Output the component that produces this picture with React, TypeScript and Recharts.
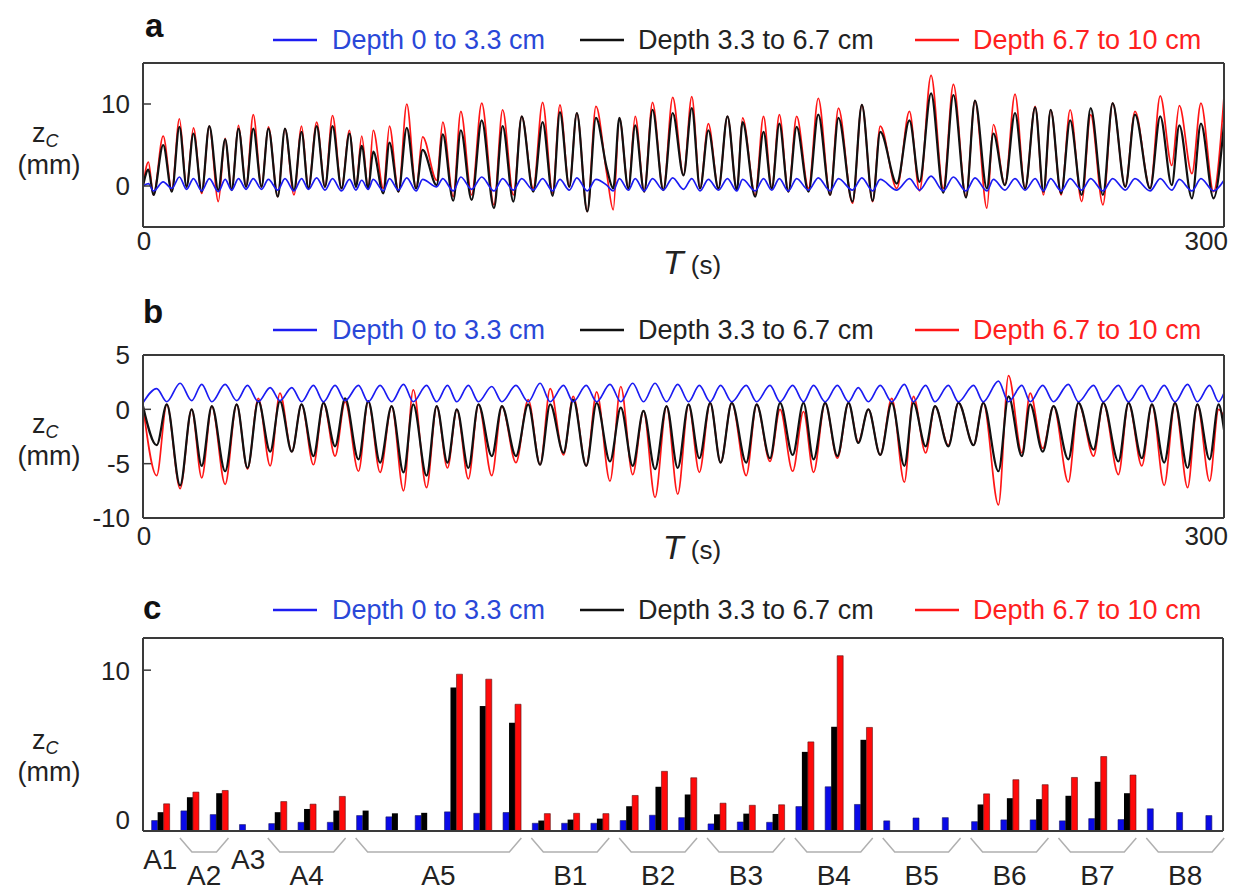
import React from 'react';
import { LineChart, Line, XAxis, YAxis, BarChart, Bar } from 'recharts';

// ---- data ----
const seriesNames = ['Depth 0 to 3.3 cm', 'Depth 3.3 to 6.7 cm', 'Depth 6.7 to 10 cm'];

// panel a: time (s) of each crest / trough and the values there (mm)
const tA = [
  0, 1.5, 2.9, 5.6, 8.0, 10.1, 12.1, 14.0, 16.3, 18.4,
  20.9, 22.8, 24.6, 26.5, 28.6, 30.6, 32.9, 34.8, 37.4, 39.4,
  41.9, 44.0, 45.9, 48.2, 50.5, 52.6, 55.1, 57.3, 59.1, 60.7,
  62.5, 63.9, 66.7, 68.4, 70.9, 73.2, 75.8, 77.6, 81.5, 83.2,
  86.1, 88.2, 91.2, 94.0, 97.4, 99.8, 102.8, 105.1, 108.3, 110.9,
  113.7, 115.7, 118.3, 120.4, 123.3, 125.7, 128.7, 130.5, 132.2, 134.7,
  136.6, 139.1, 141.4, 144.4, 147.0, 150.0, 152.3, 154.6, 156.9, 159.7,
  162.2, 164.8, 166.4, 169.9, 172.2, 174.5, 176.6, 179.1, 181.4, 184.7,
  187.4, 190.7, 193.0, 196.9, 199.5, 202.5, 204.6, 209.2, 212.7, 215.5,
  218.7, 222.1, 224.9, 228.4, 230.9, 234.2, 236.0, 239.2, 242.0, 244.8,
  247.6, 249.9, 251.9, 254.8, 257.3, 260.5, 263.0, 266.4, 269.1, 272.6,
  275.3, 279.5, 282.3, 285.5, 287.6, 291.1, 293.6, 297.1, 300,
];
const blueA = [
  0, 0.3, -0.6, 0.5, -0.3, 1.1, -0.4, 0.9, -0.6, 0.9,
  -0.7, 0.8, -0.5, 0.9, -0.4, 0.9, -0.4, 0.8, -0.5, 0.9,
  -0.6, 0.9, -0.4, 1.0, -0.5, 0.9, -0.6, 0.8, -0.5, 0.7,
  -0.4, 0.8, -0.6, 0.9, -0.5, 1.0, -0.6, 0.8, -0.1, 0.9,
  -0.6, 1.1, -0.4, 1.1, -0.6, 0.9, -0.5, 0.9, -0.5, 0.9,
  -0.6, 0.8, -0.5, 1.0, -0.6, 0.8, 0.1, -0.6, 0.9, -0.5,
  0.9, -0.6, 0.9, -0.5, 1.0, -0.4, 0.9, -0.6, 0.8, -0.5,
  0.9, -0.6, 0.8, -0.6, 0.9, -0.5, 0.9, -0.6, 0.9, -0.5,
  1.0, -0.6, 0.9, -0.5, 1.0, -0.6, 0.8, -0.5, 0.9, -0.5,
  1.2, -0.6, 1.1, -0.6, 1.0, -0.6, 0.8, -0.5, 0.9, -0.5,
  0.9, -0.6, 0.9, -0.6, 0.9, -0.5, 0.9, -0.6, 0.9, -0.5,
  0.9, -0.6, 0.9, -0.5, 0.8, -0.6, 0.9, -0.6, 0.7,
];
const blackA = [
  0, 2.0, -1.1, 5.0, -0.7, 7.2, -0.1, 6.4, -0.7, 7.3,
  -0.5, 5.7, -0.5, 7.0, -0.1, 7.0, -0.1, 7.0, -1.3, 7.0,
  -0.5, 6.6, -0.3, 7.3, -0.1, 7.3, -0.3, 6.4, -0.1, 4.9,
  -0.3, 4.2, -0.9, 5.3, -0.7, 7.1, -0.3, 4.4, 0.1, 6.3,
  -1.8, 6.8, -1.7, 8.0, -2.7, 7.3, -1.9, 8.5, -0.7, 7.8,
  -1.2, 9.0, -0.1, 8.9, -3.1, 8.3, 2.2, -0.3, 8.3, -0.3,
  7.4, -0.7, 9.3, -0.5, 8.9, 1.3, 9.5, -0.3, 6.8, -0.3,
  8.5, -0.5, 7.8, -1.3, 6.6, -0.3, 7.6, -0.7, 7.2, -0.7,
  8.7, -1.1, 8.3, -1.9, 9.9, -1.8, 6.6, 0.3, 8.0, 0.5,
  11.3, -0.8, 11.1, -1.4, 10.4, -0.3, 6.4, 0.1, 8.9, -0.3,
  9.6, -0.7, 9.3, -0.9, 8.0, -1.1, 9.5, -1.1, 10.1, -0.1,
  8.7, -0.3, 8.5, 0.1, 7.4, -1.5, 7.6, -1.5, 7.6,
];
const redA = [
  0, 2.9, -1.1, 6.1, -0.5, 8.2, -0.1, 7.1, -0.9, 7.3,
  -1.9, 5.8, -0.5, 7.4, -0.1, 8.7, -0.1, 7.2, -1.3, 7.0,
  -1.1, 7.3, -0.3, 7.8, -0.1, 8.6, -0.3, 6.8, -0.1, 6.1,
  -0.3, 6.8, -0.3, 7.3, -0.7, 10.0, -0.3, 6.0, 0.7, 7.8,
  -1.3, 9.1, -1.1, 10.1, -2.3, 9.3, -1.1, 8.5, -0.3, 10.2,
  -0.9, 9.9, -0.1, 8.9, -3.1, 9.7, 1.5, -2.9, 8.3, -0.3,
  8.5, -0.7, 10.2, -0.5, 10.8, 1.3, 10.9, -0.3, 7.6, -0.3,
  8.5, -0.5, 8.3, -1.1, 8.5, -0.3, 8.7, -0.7, 8.5, -0.3,
  10.7, -1.1, 9.5, -2.1, 9.9, -1.9, 7.3, -0.3, 9.1, -0.6,
  13.5, -0.3, 12.4, -1.3, 10.4, -2.7, 7.5, 0.1, 11.2, -0.3,
  9.7, -1.1, 9.3, -1.1, 9.3, -1.9, 8.7, -2.3, 10.1, -0.1,
  9.1, -0.3, 11.0, 2.5, 9.8, 1.5, 10.1, -0.7, 10.9,
];

// panel b
const tB = [
  0, 3.8, 6.6, 10.3, 13.5, 16.3, 19.1, 22.8, 26.0, 29.0,
  32.0, 35.3, 38.0, 41.3, 44.0, 47.3, 50.1, 53.3, 56.1, 59.8,
  62.5, 65.8, 69.0, 72.3, 75.0, 78.7, 81.5, 84.5, 87.1, 90.3,
  93.1, 96.8, 99.6, 103.5, 106.9, 110.2, 113.0, 116.7, 119.4, 123.0,
  125.9, 129.6, 132.6, 135.9, 138.9, 142.1, 145.3, 148.4, 151.4, 154.4,
  157.4, 160.3, 163.4, 167.4, 170.3, 174.0, 176.8, 180.3, 183.3, 186.1,
  189.3, 192.7, 195.8, 198.5, 201.3, 204.6, 207.8, 211.3, 213.8, 217.2,
  219.8, 223.5, 226.3, 230.5, 233.2, 237.4, 240.2, 243.9, 246.2, 249.7,
  252.7, 256.8, 259.6, 263.8, 266.5, 270.7, 273.5, 277.2, 280.0, 283.4,
  286.4, 289.9, 292.6, 296.0, 298.5, 300,
];
const blueB = [
  0.6, 1.9, 0.7, 2.4, 0.8, 2.3, 0.7, 2.3, 0.8, 2.2,
  0.7, 2.0, 0.8, 2.0, 0.7, 2.2, 0.7, 2.2, 0.8, 2.2,
  0.7, 2.2, 0.7, 2.3, 0.7, 2.2, 0.7, 2.2, 0.7, 2.2,
  0.7, 2.1, 0.7, 2.2, 0.7, 2.4, 0.7, 2.2, 0.7, 2.2,
  0.7, 2.3, 0.7, 2.4, 0.7, 2.4, 0.7, 2.3, 0.7, 2.2,
  0.7, 2.2, 0.7, 2.2, 0.7, 2.2, 0.7, 2.2, 0.7, 2.2,
  0.7, 2.2, 0.7, 2.0, 0.7, 2.2, 0.7, 2.3, 0.7, 2.2,
  0.7, 2.2, 0.7, 2.2, 0.7, 2.6, 0.7, 2.2, 0.7, 2.2,
  0.7, 2.3, 0.7, 2.2, 0.7, 2.2, 0.7, 2.2, 0.7, 2.2,
  0.7, 2.3, 0.7, 2.2, 0.7, 1.5,
];
const blackB = [
  0.3, -3.3, 0.45, -7.0, 0, -5.2, 0.3, -5.7, 0.45, -5.4,
  0.75, -3.9, 0.75, -3.9, 0.45, -4.3, 0.6, -3.4, 1.0, -4.6,
  0.75, -4.9, 0.3, -5.8, 0.45, -6.1, 0.3, -4.9, 0, -5.4,
  0.45, -4.3, 0.3, -4.3, 0.45, -5.1, 0.45, -4.0, 0.9, -5.2,
  0.6, -4.8, 0.15, -5.2, -0.15, -5.5, 0.3, -5.4, 0.45, -4.5,
  0.6, -4.9, 0.6, -4.9, 0.45, -4.5, 0.6, -4.2, 0.6, -4.6,
  0.6, -4.3, 0.6, -3.1, 0, -4.2, 0.6, -5.2, 0.6, -3.4,
  0.3, -3.4, 0.6, -3.3, 0.6, -5.7, 1.2, -4.3, 0.45, -3.9,
  0.3, -4.6, 0.6, -3.7, 0.6, -4.8, 0.6, -4.5, 0.45, -4.9,
  0.6, -5.4, 0.45, -4.6, 0.45, -1.9,
];
const redB = [
  0.3, -6.1, 0.45, -7.3, 0, -6.3, 0.3, -6.9, 0.45, -5.5,
  1.0, -5.2, 1.5, -3.9, 0.45, -5.1, 0.6, -4.3, 0.7, -5.7,
  0.75, -5.8, 0.3, -7.5, 1.8, -7.2, 0.3, -5.4, 0, -6.4,
  0.45, -6.1, 0.3, -4.9, 0.9, -5.1, 1.9, -4.2, 1.2, -5.2,
  1.6, -6.6, 2.1, -6.0, -0.15, -8.1, 0.3, -7.8, 0.45, -5.8,
  0.6, -4.9, 0.6, -6.1, 0.45, -4.8, 0.0, -5.7, -0.2, -5.8,
  0.6, -4.5, 0.6, -3.0, 0, -4.2, 1.0, -6.7, 1.2, -4.0,
  0.3, -3.3, 0.6, -3.3, 0.6, -8.8, 3.1, -4.0, 1.5, -3.6,
  0.3, -6.7, 0.6, -4.3, 0.6, -6.0, 0.6, -5.2, 0.45, -7.0,
  0.6, -7.2, 0.45, -6.6, 0.0, -0.7,
];

// panel c: site groups and the bar heights (mm) of each test
const groupNames = ['A1', 'A2', 'A3', 'A4', 'A5', 'B1', 'B2', 'B3', 'B4', 'B5', 'B6', 'B7', 'B8'];
const groupSizes = [1, 2, 1, 3, 6, 3, 3, 3, 3, 3, 3, 3, 3];
const raisedGroups = ['A1', 'A3'];
const blueC = [
  0.65, 1.25, 1.02, 0.4, 0.46, 0.54, 0.54, 0.96, 0.88, 0.96, 1.19, 1.1, 1.15,
  0.48, 0.48, 0.48, 0.65, 0.98, 0.83, 0.44, 0.56, 0.54, 1.52, 2.75, 1.65,
  0.63, 0.81, 0.83, 0.58, 0.69, 0.69, 0.63, 0.77, 0.71, 1.38, 1.15, 0.96,
];
const blackC = [
  1.17, 2.1, 2.35, 0, 1.17, 1.37, 1.27, 1.27, 1.1, 1.13, 8.92, 7.77, 6.73,
  0.65, 0.71, 0.77, 1.54, 2.75, 2.27, 1.04, 1.08, 1.06, 4.92, 6.48, 5.67,
  0, 0, 0, 1.65, 2.04, 1.98, 2.19, 3.06, 2.35, 0, 0, 0,
];
const redC = [
  1.69, 2.42, 2.52, 0, 1.83, 1.67, 2.15, 0, 0, 0, 9.75, 9.44, 7.88,
  1.08, 1.1, 1.08, 2.21, 3.71, 3.31, 1.73, 1.6, 1.63, 5.54, 10.9, 6.44,
  0, 0, 0, 2.31, 3.19, 2.88, 3.33, 4.63, 3.48, 0, 0, 0,
];

// ---- layout ----
const FONT = '"Liberation Sans", Arial, Helvetica, sans-serif';
const FRAME = '#3a3a3a';
const BLUE = '#1c1cf2';
const BLACK = '#111111';
const RED = '#ff1616';
const BLUE_TEXT = '#2a48d8';
const RED_TEXT = '#ff2020';
const W = 1243;
const PLOT_LEFT = 143;
const Y_AXIS_W = 60;
const C_X_MIN = -0.59;
const C_X_MAX = 36.29;
const C_PLOT_W = 1080;

const legendLayout = [
  { lineX: 273, textX: 332, color: BLUE, textColor: BLUE_TEXT },
  { lineX: 580, textX: 638, color: BLACK, textColor: '#222' },
  { lineX: 915, textX: 973, color: RED, textColor: RED_TEXT },
];

const dataA = tA.map((t, i) => ({ t, blue: blueA[i], black: blackA[i], red: redA[i] }));
const dataB = tB.map((t, i) => ({ t, blue: blueB[i], black: blackB[i], red: redB[i] }));
const dataC = blueC.map((v, i) => ({ i, blue: v, black: blackC[i], red: redC[i] }));

const groupStarts = groupSizes.map((_, g) => groupSizes.slice(0, g).reduce((s, n) => s + n, 0));
const groupCenters = groupStarts.map((s, g) => s + (groupSizes[g] - 1) / 2);

const frameLine = { stroke: FRAME, strokeWidth: 2 };

function ValueTick(props: any) {
  const { x, y, payload, lift = 0 } = props;
  return (
    <g>
      <line x1={x} x2={x + 8} y1={y} y2={y} stroke={FRAME} strokeWidth={1.5} />
      <text x={x - 13} y={y - lift} dy="0.36em" textAnchor="end" fontSize={26} fill="#222" fontFamily={FONT}>
        {payload.value}
      </text>
    </g>
  );
}

function TimeTick(props: any) {
  const { x, y, payload, dy } = props;
  const last = payload.value === 300;
  return (
    <text x={last ? x + 4 : x + 1} y={y + dy} textAnchor={last ? 'end' : 'middle'} fontSize={26} fill="#222" fontFamily={FONT}>
      {payload.value}
    </text>
  );
}

function GroupTick(props: any) {
  const { x, y, payload } = props;
  const g = groupCenters.indexOf(payload.value);
  if (g < 0) return <g />;
  const unit = C_PLOT_W / (C_X_MAX - C_X_MIN);
  const size = groupSizes[g];
  const name = groupNames[g];
  const left = x - (size / 2) * unit + 5;
  const right = x + (size / 2) * unit - 5;
  return (
    <g>
      {size > 1 && (
        <path
          d={`M${left},${y + 7} L${left + 12},${y + 21} L${right - 12},${y + 21} L${right},${y + 7}`}
          fill="none"
          stroke="#b0b0b0"
          strokeWidth={1.5}
        />
      )}
      <text x={x} y={y + (raisedGroups.includes(name) ? 38 : 54)} textAnchor="middle" fontSize={28} fill="#222" fontFamily={FONT}>
        {name}
      </text>
    </g>
  );
}

interface TimePanelProps {
  data: { t: number; blue: number; black: number; red: number }[];
  top: number;
  marginTop: number;
  marginBottom: number;
  yDomain: [number, number];
  yTicks: number[];
  tickDy: number;
}

function TimePanel({ data, top, marginTop, marginBottom, yDomain, yTicks, tickDy }: TimePanelProps) {
  return (
    <div style={{ position: 'absolute', left: 0, top }}>
      <LineChart
        width={W}
        height={280}
        data={data}
        margin={{ top: marginTop, right: 18, bottom: marginBottom, left: PLOT_LEFT - Y_AXIS_W }}
      >
        <XAxis
          dataKey="t"
          type="number"
          domain={[0, 300]}
          ticks={[0, 300]}
          interval={0}
          height={40}
          tickSize={0}
          tickMargin={0}
          tickLine={false}
          axisLine={frameLine}
          tick={(p: any) => <TimeTick {...p} dy={tickDy} />}
        />
        <XAxis xAxisId="top" orientation="top" type="number" domain={[0, 300]} height={1} tick={false} tickLine={false} axisLine={frameLine} />
        <YAxis
          type="number"
          domain={yDomain}
          ticks={yTicks}
          interval={0}
          width={Y_AXIS_W}
          tickSize={0}
          tickMargin={0}
          tickLine={false}
          axisLine={frameLine}
          tick={(p: any) => <ValueTick {...p} />}
        />
        <YAxis yAxisId="right" orientation="right" type="number" domain={[0, 1]} width={1} tick={false} tickLine={false} axisLine={frameLine} />
        <Line type="monotone" dataKey="red" stroke={RED} strokeWidth={1.7} dot={false} isAnimationActive={false} />
        <Line type="monotone" dataKey="black" stroke={BLACK} strokeWidth={2.2} dot={false} isAnimationActive={false} />
        <Line type="monotone" dataKey="blue" stroke={BLUE} strokeWidth={1.7} dot={false} isAnimationActive={false} />
      </LineChart>
    </div>
  );
}

function BarPanel() {
  return (
    <div style={{ position: 'absolute', left: 0, top: 600 }}>
      <BarChart
        width={W}
        height={292}
        data={dataC}
        barGap={0}
        margin={{ top: 37, right: 19, bottom: 0, left: PLOT_LEFT - Y_AXIS_W }}
      >
        <XAxis
          dataKey="i"
          type="number"
          domain={[C_X_MIN, C_X_MAX]}
          ticks={groupCenters}
          interval={0}
          height={61}
          tickSize={0}
          tickMargin={0}
          tickLine={false}
          axisLine={frameLine}
          tick={(p: any) => <GroupTick {...p} />}
        />
        <XAxis xAxisId="top" orientation="top" type="number" domain={[0, 1]} height={1} tick={false} tickLine={false} axisLine={frameLine} />
        <YAxis
          type="number"
          domain={[0, 12]}
          ticks={[0, 10]}
          interval={0}
          width={Y_AXIS_W}
          tickSize={0}
          tickMargin={0}
          tickLine={false}
          axisLine={frameLine}
          tick={(p: any) => <ValueTick {...p} lift={p.payload.value === 0 ? 11 : 0} />}
        />
        <YAxis yAxisId="right" orientation="right" type="number" domain={[0, 1]} width={1} tick={false} tickLine={false} axisLine={frameLine} />
        <Bar dataKey="blue" fill="#0a0ae8" stroke="#1a1a60" strokeWidth={0.6} barSize={6} isAnimationActive={false} />
        <Bar dataKey="black" fill="#000000" barSize={6} isAnimationActive={false} />
        <Bar dataKey="red" fill="#ff0a0a" stroke="#5a1010" strokeWidth={0.6} barSize={6} isAnimationActive={false} />
      </BarChart>
    </div>
  );
}

function LegendRow({ y }: { y: number }) {
  return (
    <g>
      {legendLayout.map((item, k) => (
        <g key={seriesNames[k]}>
          <line x1={item.lineX} x2={item.lineX + 44} y1={y} y2={y} stroke={item.color} strokeWidth={2.5} />
          <text x={item.textX} y={y + 9} fill={item.textColor} fontSize={27} fontFamily={FONT}>
            {seriesNames[k]}
          </text>
        </g>
      ))}
    </g>
  );
}

function YTitle({ y }: { y: number }) {
  return (
    <g fontFamily={FONT} fill="#222">
      <text x={32} y={y} fontSize={27}>
        z<tspan fontSize={18} fontStyle="italic" dy={5}>C</tspan>
      </text>
      <text x={49} y={y + 32} fontSize={27} textAnchor="middle">(mm)</text>
    </g>
  );
}

function TTitle({ y }: { y: number }) {
  return (
    <text x={692} y={y} textAnchor="middle" fontFamily={FONT} fill="#222">
      <tspan fontSize={34} fontStyle="italic">T</tspan>
      <tspan fontSize={26}> (s)</tspan>
    </text>
  );
}

export default function App() {
  return (
    <div style={{ position: 'absolute', left: 0, top: 0, width: W, height: 892, background: '#fff', overflow: 'hidden' }}>
      <TimePanel data={dataA} top={0} marginTop={62} marginBottom={13} yDomain={[-5, 15]} yTicks={[0, 10]} tickDy={23} />
      <TimePanel data={dataB} top={300} marginTop={54} marginBottom={22} yDomain={[-10, 5]} yTicks={[5, 0, -5, -10]} tickDy={27} />
      <BarPanel />
      <svg width={W} height={892} style={{ position: 'absolute', left: 0, top: 0, pointerEvents: 'none' }}>
        <g fontFamily={FONT} fontWeight="bold" fontSize={33} fill="#111">
          <text x={145} y={37}>a</text>
          <text x={143} y={323}>b</text>
          <text x={143} y={619}>c</text>
        </g>
        <LegendRow y={40} />
        <LegendRow y={330} />
        <LegendRow y={610} />
        <YTitle y={142} />
        <YTitle y={433} />
        <YTitle y={749} />
        <TTitle y={274} />
        <TTitle y={559} />
      </svg>
    </div>
  );
}
